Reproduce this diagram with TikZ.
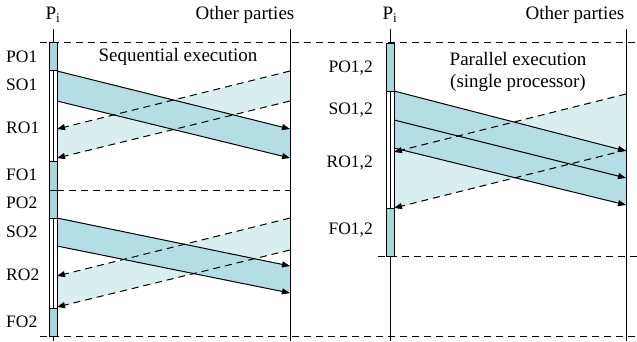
\documentclass[tikz,border=0pt]{standalone}
\usepackage{fontspec}
\setmainfont{Liberation Serif}
\usetikzlibrary{arrows.meta}
\definecolor{bandD}{HTML}{B4DEE3}
\definecolor{bandL}{HTML}{D9EEEE}
\definecolor{barC}{HTML}{A8D6DC}
\begin{document}
\begin{tikzpicture}[x=1pt,y=-1pt,
  hdr/.style={font=\fontsize{19}{22}\selectfont, inner sep=0pt},
  lbl/.style={font=\fontsize{17.5}{20}\selectfont, inner sep=0pt},
  life/.style={line width=1pt},
  sep/.style={line width=1pt, dash pattern=on 7pt off 5pt},
  msg/.style={line width=1pt, -{Triangle[length=8pt,width=6pt]}},
  ret/.style={line width=1pt, dash pattern=on 7pt off 5pt, -{Triangle[length=8pt,width=6pt]}},
  busy/.style={draw, line width=0.8pt, fill=barC},
  wait/.style={draw, line width=0.8pt, fill=white}]
\useasboundingbox (0,0) rectangle (637,341);

% ---------------- headers ----------------
\node[hdr] (pL) at (53,15) {P\textsubscript{i}};
\node[hdr] (oL) at (245,15) {Other parties};
\node[hdr] (pR) at (390,15) {P\textsubscript{i}};
\node[hdr] (oR) at (575,15) {Other parties};

% ---------------- coordinates ----------------
% left panel, round 1
\coordinate (a1) at (57,71);   \coordinate (a2) at (290,129);
\coordinate (b1) at (57,101);  \coordinate (b2) at (290,158);
\coordinate (c1) at (290,71);  \coordinate (c2) at (57,129);
\coordinate (d1) at (290,101); \coordinate (d2) at (57,158);
% left panel, round 2
\coordinate (e1) at (57,218);  \coordinate (e2) at (290,266);
\coordinate (f1) at (57,246);  \coordinate (f2) at (290,293);
\coordinate (g1) at (290,218); \coordinate (g2) at (57,276);
\coordinate (h1) at (290,250); \coordinate (h2) at (57,307);
% right panel
\coordinate (r1) at (394,91);  \coordinate (r2) at (626,151);
\coordinate (s1) at (394,120); \coordinate (s2) at (626,178);
\coordinate (t1) at (394,148); \coordinate (t2) at (626,205);
\coordinate (u1) at (626,94);  \coordinate (u2) at (394,152);
\coordinate (v1) at (626,150); \coordinate (v2) at (394,208);

% ---------------- band fills ----------------
\fill[bandL] (c1) -- (c2) -- (d2) -- (d1) -- cycle;
\fill[bandD] (a1) -- (a2) -- (b2) -- (b1) -- cycle;
\fill[bandL] (g1) -- (g2) -- (h2) -- (h1) -- cycle;
\fill[bandD] (e1) -- (e2) -- (f2) -- (f1) -- cycle;
\fill[bandL] (u1) -- (u2) -- (v2) -- (v1) -- cycle;
\fill[bandD] (r1) -- (r2) -- (t2) -- (t1) -- cycle;

% ---------------- lifelines ----------------
\coordinate (pLt) at (53,29);  \coordinate (pLb) at (53,341);
\coordinate (oLt) at (290,29); \coordinate (oLb) at (290,341);
\coordinate (pRt) at (390,29); \coordinate (pRb) at (390,341);
\coordinate (oRt) at (626,29); \coordinate (oRb) at (626,341);
\draw[life] (pLt) -- (pLb);
\draw[life] (oLt) -- (oLb);
\draw[life] (pRt) -- (pRb);
\draw[life] (oRt) -- (oRb);

% ---------------- separators ----------------
\coordinate (s0a) at (40,42);  \coordinate (s0b) at (637,42);
\coordinate (s1a) at (57,190); \coordinate (s1b) at (290,190);
\coordinate (s2a) at (40,336); \coordinate (s2b) at (637,336);
\coordinate (s3a) at (378,256);\coordinate (s3b) at (637,256);
\draw[sep] (s0a) -- (s0b);
\draw[sep] (s1a) -- (s1b);
\draw[sep] (s2a) -- (s2b);
\draw[sep] (s3a) -- (s3b);

% ---------------- activation bars ----------------
\draw[wait] (49,70) rectangle (57,161);
\draw[wait] (49,218) rectangle (57,308);
\draw[wait] (386,91) rectangle (394,208);
\draw[line width=0.6pt] (53,70) -- (53,161);
\draw[line width=0.6pt] (53,218) -- (53,308);
\draw[line width=0.6pt] (390,91) -- (390,208);
\draw[busy] (49,42) rectangle (57,70);
\draw[busy] (49,161) rectangle (57,190);
\draw[busy] (49,190) rectangle (57,218);
\draw[busy] (49,308) rectangle (57,336);
\draw[busy] (386,43) rectangle (394,91);
\draw[busy] (386,208) rectangle (394,256);

% ---------------- messages ----------------
\draw[msg] (a1) -- (a2);
\draw[msg] (b1) -- (b2);
\draw[ret] (c1) -- (c2);
\draw[ret] (d1) -- (d2);
\draw[msg] (e1) -- (e2);
\draw[msg] (f1) -- (f2);
\draw[ret] (g1) -- (g2);
\draw[ret] (h1) -- (h2);
\draw[msg] (r1) -- (r2);
\draw[msg] (s1) -- (s2);
\draw[msg] (t1) -- (t2);
\draw[ret] (u1) -- (u2);
\draw[ret] (v1) -- (v2);

% ---------------- labels ----------------
\node[lbl, anchor=west] (po1) at (6,57) {PO1};
\node[lbl, anchor=west] (so1) at (6,85) {SO1};
\node[lbl, anchor=west] (ro1) at (6,128) {RO1};
\node[lbl, anchor=west] (fo1) at (6,175) {FO1};
\node[lbl, anchor=west] (po2) at (6,203) {PO2};
\node[lbl, anchor=west] (so2) at (6,232) {SO2};
\node[lbl, anchor=west] (ro2) at (6,275) {RO2};
\node[lbl, anchor=west] (fo2) at (6,322) {FO2};
\node[lbl, anchor=east] (po12) at (373,68) {PO1,2};
\node[lbl, anchor=east] (so12) at (373,110) {SO1,2};
\node[lbl, anchor=east] (ro12) at (373,163) {RO1,2};
\node[lbl, anchor=east] (fo12) at (373,230) {FO1,2};

\node[hdr] (seq) at (178,57) {Sequential execution};
\node[hdr, align=center] (par) at (518,71.5) {Parallel execution\\(single processor)};
\end{tikzpicture}
\end{document}
